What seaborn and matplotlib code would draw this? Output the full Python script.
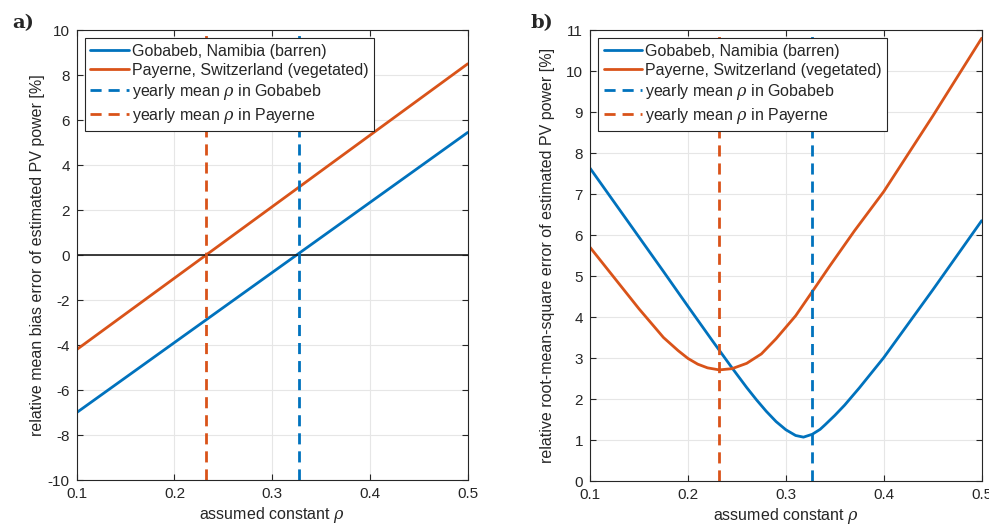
import numpy as np
import pandas as pd
import seaborn as sns
import matplotlib.pyplot as plt

# assumed constant albedo values
rho_mbe = [0.1, 0.5]
gob_mbe = [-7.0, 5.45]
pay_mbe = [-4.2, 8.5]

rho_gob_rmse = [0.1, 0.125, 0.15, 0.175, 0.2, 0.225, 0.245, 0.26, 0.27, 0.28, 0.29,
                0.30, 0.31, 0.318, 0.327, 0.335, 0.34, 0.35, 0.36, 0.375, 0.4,
                0.45, 0.5]
gob_rmse = [7.63, 6.79, 5.95, 5.11, 4.26, 3.42, 2.76, 2.28, 1.98, 1.7, 1.45,
            1.25, 1.11, 1.07, 1.14, 1.26, 1.37, 1.6, 1.85, 2.27, 3.01,
            4.66, 6.35]

rho_pay_rmse = [0.1, 0.125, 0.15, 0.175, 0.19, 0.2, 0.21, 0.22, 0.232, 0.245,
                0.26, 0.275, 0.29, 0.31, 0.327, 0.345, 0.37, 0.4, 0.45, 0.5]
pay_rmse = [5.70, 4.95, 4.2, 3.5, 3.18, 2.99, 2.85, 2.76, 2.71, 2.74,
            2.87, 3.1, 3.47, 4.03, 4.62, 5.25, 6.1, 7.06, 8.9, 10.8]

mean_rho_gob = 0.327
mean_rho_pay = 0.232

blue = '#0072BD'
orange = '#D95319'

sns.set_style('ticks')
plt.rcParams['font.family'] = ['Liberation Sans', 'DejaVu Sans']
plt.rcParams['mathtext.fontset'] = 'dejavuserif'
plt.rcParams['axes.unicode_minus'] = False

fig = plt.figure(figsize=(9.89, 5.25), dpi=100)
ax1 = fig.add_axes([0.0776, 0.0857, 0.3953, 0.857])
ax2 = fig.add_axes([0.5966, 0.0838, 0.396, 0.859])


def style(ax):
    ax.grid(True, color='#e6e6e6', linewidth=0.8)
    ax.set_axisbelow(True)
    for s in ax.spines.values():
        s.set_color('#262626')
        s.set_linewidth(0.8)
    ax.tick_params(direction='in', top=True, right=True, length=4, pad=5,
                   labelsize=11, colors='#262626', width=0.8)
    ax.set_xlim(0.1, 0.5)
    ax.set_xticks([0.1, 0.2, 0.3, 0.4, 0.5])
    ax.set_xticklabels(['0.1', '0.2', '0.3', '0.4', '0.5'])
    ax.set_xlabel(r'assumed constant $\rho$', fontsize=11.5, color='#262626',
                  labelpad=3)


dash = (0, (4, 2.5))

# panel a
sns.lineplot(x=rho_mbe, y=gob_mbe, ax=ax1, color=blue, linewidth=2,
             label='Gobabeb, Namibia (barren)')
sns.lineplot(x=rho_mbe, y=pay_mbe, ax=ax1, color=orange, linewidth=2,
             label='Payerne, Switzerland (vegetated)')
ax1.axhline(0, color='#1a1a1a', linewidth=1.2)
ax1.axvline(mean_rho_gob, color=blue, linewidth=2, linestyle=dash,
            label=r'yearly mean $\rho$ in Gobabeb')
ax1.axvline(mean_rho_pay, color=orange, linewidth=2, linestyle=dash,
            label=r'yearly mean $\rho$ in Payerne')
style(ax1)
ax1.set_ylim(-10, 10)
ax1.set_yticks(range(-10, 11, 2))
ax1.set_ylabel('relative mean bias error of estimated PV power [%]',
               fontsize=11.5, color='#262626', labelpad=2)

# panel b
sns.lineplot(x=rho_gob_rmse, y=gob_rmse, ax=ax2, color=blue, linewidth=2,
             label='Gobabeb, Namibia (barren)')
sns.lineplot(x=rho_pay_rmse, y=pay_rmse, ax=ax2, color=orange, linewidth=2,
             label='Payerne, Switzerland (vegetated)')
ax2.axvline(mean_rho_gob, color=blue, linewidth=2, linestyle=dash,
            label=r'yearly mean $\rho$ in Gobabeb')
ax2.axvline(mean_rho_pay, color=orange, linewidth=2, linestyle=dash,
            label=r'yearly mean $\rho$ in Payerne')
style(ax2)
ax2.set_ylim(0, 11)
ax2.set_yticks(range(0, 12))
ax2.set_ylabel('relative root-mean-square error of estimated PV power [%]',
               fontsize=11.5, color='#262626', labelpad=8)

for ax in (ax1, ax2):
    leg = ax.legend(loc='upper left', fontsize=11.5, fancybox=False,
                    framealpha=1, edgecolor='#262626', handlelength=2.4,
                    handletextpad=0.2, borderpad=0.35, labelspacing=0.25,
                    borderaxespad=0.5)
    leg.get_frame().set_linewidth(0.8)

fig.text(0.012, 0.947, 'a)', fontsize=14, fontweight='bold', family='DejaVu Serif')
fig.text(0.536, 0.947, 'b)', fontsize=14, fontweight='bold', family='DejaVu Serif')

fig.savefig('out.png', dpi=100)
